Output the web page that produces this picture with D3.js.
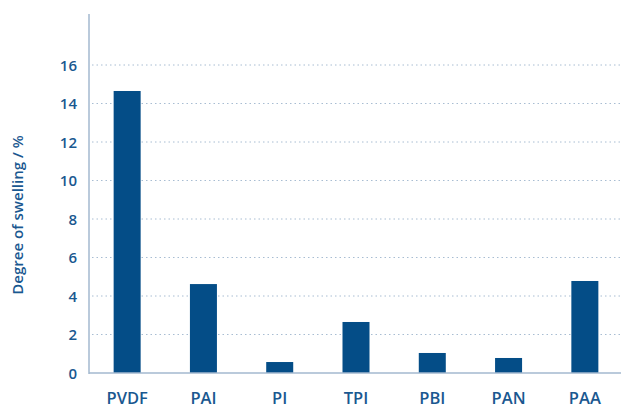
<!DOCTYPE html>
<html>
<head>
<meta charset="utf-8">
<script src="https://cdn.jsdelivr.net/npm/d3@7"></script>
<style>
  body { margin: 0; background: #fff; }
  svg text { font-family: "Open Sans", sans-serif; fill: #1a5890; font-weight: 600; }
</style>
</head>
<body>
<script>
var polimeri = ["PVDF", "PAI", "PI", "TPI", "PBI", "PAN", "PAA"];
var nabrekanje = [14.65, 4.62, 0.57, 2.65, 1.04, 0.78, 4.78];
var yTicks = [0, 2, 4, 6, 8, 10, 12, 14, 16];
var naslovY = "Degree of swelling / %";

var width = 621, height = 408;
var levo = 89, desno = 623, spodaj = 373;

var svg = d3.select("body").append("svg")
  .attr("width", width)
  .attr("height", height);

var x = d3.scaleBand()
  .domain(polimeri)
  .range([levo, desno])
  .paddingInner(0.646)
  .paddingOuter(0.323);

var y = d3.scaleLinear()
  .domain([0, 16])
  .range([spodaj, 65]);

// pikcaste mreze
svg.append("g").selectAll("line")
  .data(yTicks.slice(1))
  .enter().append("line")
  .attr("x1", levo + 3).attr("x2", width)
  .attr("y1", function(d) { return y(d); })
  .attr("y2", function(d) { return y(d); })
  .attr("stroke", "#a8bdd2")
  .attr("stroke-width", 1)
  .attr("stroke-dasharray", "1.5,3");

// stolpci
svg.append("g").selectAll("rect")
  .data(nabrekanje)
  .enter().append("rect")
  .attr("x", function(d, i) { return x(polimeri[i]); })
  .attr("y", function(d) { return y(d); })
  .attr("width", x.bandwidth())
  .attr("height", function(d) { return spodaj - y(d); })
  .attr("fill", "#044d87");

// osi
svg.append("line")
  .attr("x1", levo).attr("x2", levo)
  .attr("y1", 14).attr("y2", spodaj + 1)
  .attr("stroke", "#a3b9cf").attr("stroke-width", 1.5);
svg.append("line")
  .attr("x1", levo).attr("x2", width)
  .attr("y1", spodaj).attr("y2", spodaj)
  .attr("stroke", "#a3b9cf").attr("stroke-width", 1.5);

var yAxis = d3.axisLeft(y).tickValues(yTicks).tickSize(0).tickPadding(12);
var gy = svg.append("g")
  .attr("transform", "translate(" + levo + ",0)")
  .call(yAxis);
gy.select(".domain").remove();
gy.selectAll("text")
  .style("font-size", "15px")
  .attr("dy", "0.35em");

var xAxis = d3.axisBottom(x).tickSize(0).tickPadding(19);
var gx = svg.append("g")
  .attr("transform", "translate(0," + spodaj + ")")
  .call(xAxis);
gx.select(".domain").remove();
gx.selectAll("text")
  .style("font-size", "16.5px");

svg.append("text")
  .attr("transform", "translate(23,215) rotate(-90)")
  .attr("text-anchor", "middle")
  .style("font-size", "15px")
  .text(naslovY);
</script>
</body>
</html>
